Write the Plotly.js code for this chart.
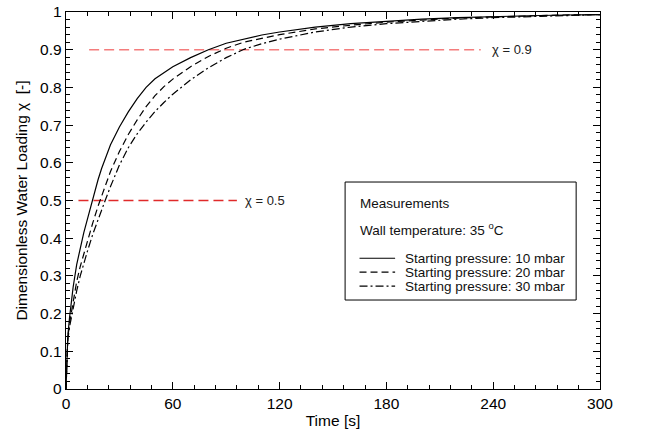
<!DOCTYPE html>
<html>
<head>
<meta charset="utf-8">
<script src="https://cdn.plot.ly/plotly-3.0.1.min.js"></script>
<style>html,body{margin:0;padding:0;background:#fff;}#chart{width:665px;height:438px;}</style>
</head>
<body>
<div id="chart"></div>
<script>
// Time [s]
const time = [0, 0.5, 1, 2, 3, 4, 6, 8, 10, 12, 15, 18, 20, 22, 25, 30, 35, 40, 45, 50, 55, 60, 70, 80, 90, 100, 110, 120, 140, 160, 180, 200, 220, 240, 260, 280, 300];
// Dimensionless water loading for each starting pressure
const p10 = [0, 0.09, 0.14, 0.19, 0.235, 0.27, 0.33, 0.375, 0.415, 0.45, 0.505, 0.555, 0.585, 0.612, 0.648, 0.695, 0.735, 0.77, 0.8, 0.823, 0.84, 0.855, 0.879, 0.9, 0.917, 0.929, 0.939, 0.947, 0.96, 0.969, 0.976, 0.981, 0.985, 0.988, 0.99, 0.992, 0.993];
const p20 = [0, 0.09, 0.135, 0.175, 0.205, 0.235, 0.285, 0.325, 0.36, 0.395, 0.44, 0.485, 0.513, 0.54, 0.577, 0.63, 0.675, 0.714, 0.749, 0.778, 0.802, 0.822, 0.855, 0.882, 0.904, 0.92, 0.931, 0.94, 0.955, 0.965, 0.973, 0.979, 0.984, 0.987, 0.99, 0.992, 0.993];
const p30 = [0, 0.085, 0.13, 0.165, 0.19, 0.215, 0.26, 0.3, 0.335, 0.365, 0.41, 0.45, 0.475, 0.5, 0.537, 0.594, 0.64, 0.677, 0.708, 0.736, 0.76, 0.782, 0.82, 0.852, 0.879, 0.901, 0.916, 0.928, 0.947, 0.96, 0.969, 0.976, 0.981, 0.985, 0.988, 0.991, 0.993];
const seriesNames = ['Starting pressure: 10 mbar', 'Starting pressure: 20 mbar', 'Starting pressure: 30 mbar'];
// Reference levels chi = 0.9 and chi = 0.5
const refLevels = [0.9, 0.5];
const refStart = [13, 7];
const refEnd = [233, 96];
const refLabels = ['χ = 0.9', 'χ = 0.5'];
// Axis ticks
const xTicks = [0, 60, 120, 180, 240, 300];
const yTicks = [0, 0.1, 0.2, 0.3, 0.4, 0.5, 0.6, 0.7, 0.8, 0.9, 1];

const FONT = '"Liberation Sans", Arial, sans-serif';
const dashes = ['solid', '7px,4px', '8px,3px,2px,3px'];
const seriesY = [p10, p20, p30];
const refColors = ['#f47c7c', '#e02a2a'];

const traces = [];
refLevels.forEach((lv, i) => {
  traces.push({
    x: [refStart[i], refEnd[i]], y: [lv, lv], mode: 'lines', showlegend: false, hoverinfo: 'skip',
    line: {color: refColors[i], width: 1.5, dash: '10px,5px'}
  });
});
seriesY.forEach((ys, i) => {
  traces.push({
    x: time, y: ys, mode: 'lines', name: seriesNames[i], showlegend: false,
    line: {color: '#000', width: 1.2, dash: dashes[i], shape: 'linear'}
  });
});

// legend drawn inside a framed box (data coords)
const box = {x0: 156.8, x1: 286.6, y0: 0.236, y1: 0.549};
const rowY = [0.347, 0.310, 0.273];
const shapes = [{type: 'rect', xref: 'x', yref: 'y', x0: box.x0, x1: box.x1, y0: box.y0, y1: box.y1,
  line: {color: '#000', width: 1}, fillcolor: 'rgba(0,0,0,0)', layer: 'above'}];
const annotations = [];
const LF = {family: FONT, size: 13.5, color: '#111'};
rowY.forEach((yy, i) => {
  shapes.push({type: 'line', xref: 'x', yref: 'y', x0: 164.9, x1: 184.9, y0: yy, y1: yy,
    line: {color: '#000', width: 1.1, dash: dashes[i]}});
  annotations.push({x: 189.4, y: yy, xref: 'x', yref: 'y', text: seriesNames[i], showarrow: false,
    xanchor: 'left', yanchor: 'middle', font: LF});
});
annotations.push({x: 164.3, y: 0.493, xref: 'x', yref: 'y', text: 'Measurements', showarrow: false,
  xanchor: 'left', yanchor: 'middle', font: LF});
annotations.push({x: 164.3, y: 0.424, xref: 'x', yref: 'y', text: 'Wall temperature: 35 <sup>o</sup>C', showarrow: false,
  xanchor: 'left', yanchor: 'middle', font: LF});
annotations.push({x: 238, y: 0.9, xref: 'x', yref: 'y', text: refLabels[0], showarrow: false,
  xanchor: 'left', yanchor: 'middle', font: {family: FONT, size: 13, color: '#222'}});
annotations.push({x: 99.5, y: 0.5, xref: 'x', yref: 'y', text: refLabels[1], showarrow: false,
  xanchor: 'left', yanchor: 'middle', font: {family: FONT, size: 13, color: '#222'}});

const axisCommon = {
  showline: true, linecolor: '#000', linewidth: 1.3, mirror: 'allticks',
  ticks: 'inside', ticklen: 7, tickwidth: 1, tickcolor: '#000',
  showgrid: false, zeroline: false,
  tickfont: {family: FONT, size: 15.5, color: '#000'}
};

const layout = {
  width: 665, height: 438,
  margin: {l: 66, r: 65, t: 12, b: 49},
  paper_bgcolor: '#fff', plot_bgcolor: '#fff',
  showlegend: false,
  xaxis: Object.assign({}, axisCommon, {
    range: [0, 300], tickvals: xTicks, ticktext: xTicks.map(String),
    minor: {dtick: 12, tick0: 0, ticks: 'inside', ticklen: 4, tickcolor: '#000', tickwidth: 1},
    title: {text: 'Time [s]', font: {family: FONT, size: 15.5, color: '#000'}, standoff: 4}
  }),
  yaxis: Object.assign({}, axisCommon, {
    range: [0, 1], tickvals: yTicks, ticktext: yTicks.map(String),
    minor: {dtick: 0.02, tick0: 0, ticks: 'inside', ticklen: 4, tickcolor: '#000', tickwidth: 1},
    title: {text: 'Dimensionless Water Loading χ\u00a0 [-]', font: {family: FONT, size: 15.5, color: '#000'}, standoff: 8}
  }),
  shapes: shapes,
  annotations: annotations
};

Plotly.newPlot('chart', traces, layout, {displayModeBar: false, staticPlot: true});
</script>
</body>
</html>
